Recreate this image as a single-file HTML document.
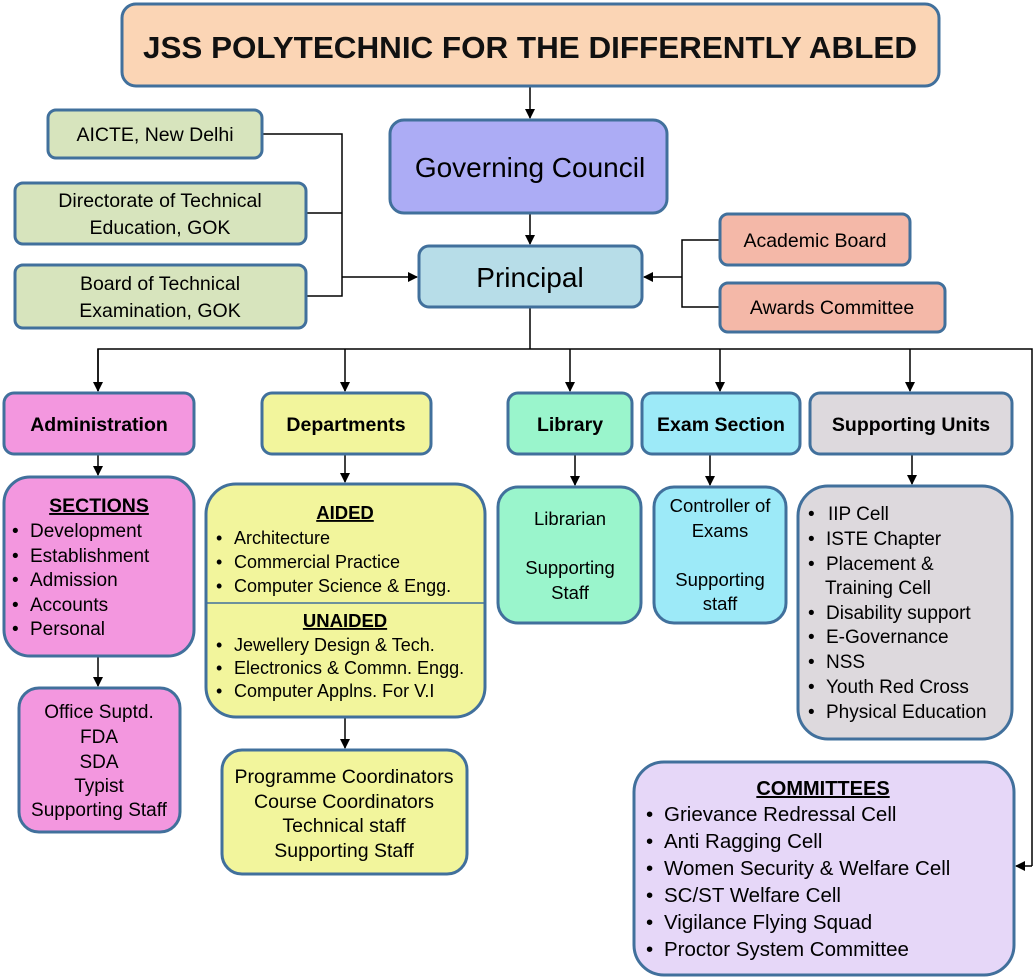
<!DOCTYPE html>
<html><head><meta charset="utf-8"><style>
html,body{margin:0;padding:0;background:#fff;}
svg{display:block;font-family:"Liberation Sans",sans-serif;}
rect{stroke:#41709c;stroke-width:3;}
line,polyline{stroke:#000;stroke-width:1.5;fill:none;}
.b{font-weight:bold;}
</style></head><body>
<svg width="1036" height="979" viewBox="0 0 1036 979">
<defs><marker id="a" markerWidth="10" markerHeight="10" refX="9" refY="5" orient="auto" markerUnits="userSpaceOnUse"><path d="M0,0 L10,5 L0,10 z" fill="#000"/></marker></defs>

<line x1="530" y1="86" x2="530" y2="118" marker-end="url(#a)"/>
<line x1="530" y1="213" x2="530" y2="244" marker-end="url(#a)"/>
<polyline points="262,134 342,134 342,296 306,296"/>
<line x1="306" y1="213" x2="342" y2="213"/>
<line x1="342" y1="277" x2="417" y2="277" marker-end="url(#a)"/>
<polyline points="720,240 682,240 682,307 720,307"/>
<line x1="682" y1="277" x2="644" y2="277" marker-end="url(#a)"/>
<line x1="530" y1="307" x2="530" y2="349"/>
<polyline points="98,391 98,349 1032,349 1032,866"/>
<line x1="1032" y1="866" x2="1016" y2="866" marker-end="url(#a)"/>
<line x1="98" y1="349" x2="98" y2="391" marker-end="url(#a)"/>
<line x1="345" y1="349" x2="345" y2="391" marker-end="url(#a)"/>
<line x1="570" y1="349" x2="570" y2="391" marker-end="url(#a)"/>
<line x1="720" y1="349" x2="720" y2="391" marker-end="url(#a)"/>
<line x1="910" y1="349" x2="910" y2="391" marker-end="url(#a)"/>
<line x1="98" y1="454" x2="98" y2="475" marker-end="url(#a)"/>
<line x1="98" y1="656" x2="98" y2="686" marker-end="url(#a)"/>
<line x1="345" y1="454" x2="345" y2="482" marker-end="url(#a)"/>
<line x1="345" y1="717" x2="345" y2="748" marker-end="url(#a)"/>
<line x1="575" y1="454" x2="575" y2="485" marker-end="url(#a)"/>
<line x1="710" y1="454" x2="710" y2="485" marker-end="url(#a)"/>
<line x1="912" y1="454" x2="912" y2="484" marker-end="url(#a)"/>

<rect x="122" y="4" width="817" height="82" rx="14" fill="#fbd5b5"/>
<text x="530" y="58" text-anchor="middle" class="b" font-size="31" fill="#111" textLength="774" lengthAdjust="spacingAndGlyphs">JSS POLYTECHNIC FOR THE DIFFERENTLY ABLED</text>

<g font-size="19.5">
<rect x="48" y="110" width="214" height="48" rx="8" fill="#d7e4bd"/>
<text x="155" y="141" text-anchor="middle">AICTE, New Delhi</text>
<rect x="15" y="183" width="291" height="61" rx="8" fill="#d7e4bd"/>
<text x="160" y="207" text-anchor="middle">Directorate of Technical</text>
<text x="160" y="234" text-anchor="middle">Education, GOK</text>
<rect x="15" y="265" width="291" height="63" rx="8" fill="#d7e4bd"/>
<text x="160" y="290" text-anchor="middle">Board of Technical</text>
<text x="160" y="317" text-anchor="middle">Examination, GOK</text>
<rect x="720" y="214" width="190" height="51" rx="8" fill="#f4b8a8"/>
<text x="815" y="247" text-anchor="middle">Academic Board</text>
<rect x="720" y="283" width="225" height="49" rx="8" fill="#f4b8a8"/>
<text x="832" y="314" text-anchor="middle">Awards Committee</text>
</g>

<rect x="390" y="120" width="277" height="93" rx="14" fill="#acacf5"/>
<text x="530" y="177" text-anchor="middle" font-size="28">Governing Council</text>
<rect x="419" y="246" width="223" height="61" rx="10" fill="#b7dde8"/>
<text x="530" y="287" text-anchor="middle" font-size="28">Principal</text>

<g class="b" font-size="19.5" text-anchor="middle">
<rect x="4" y="393" width="190" height="61" rx="10" fill="#f397df"/>
<text x="99" y="431">Administration</text>
<rect x="262" y="393" width="169" height="61" rx="10" fill="#f2f59c"/>
<text x="346" y="431">Departments</text>
<rect x="508" y="393" width="124" height="61" rx="10" fill="#9af5cc"/>
<text x="570" y="431">Library</text>
<rect x="642" y="393" width="158" height="61" rx="10" fill="#9deaf8"/>
<text x="721" y="431">Exam Section</text>
<rect x="810" y="393" width="202" height="61" rx="10" fill="#ddd9dd"/>
<text x="911" y="431">Supporting Units</text>
</g>

<rect x="4" y="477" width="190" height="179" rx="26" fill="#f397df"/>
<text x="99" y="512" text-anchor="middle" class="b" font-size="19.5" text-decoration="underline">SECTIONS</text>
<g font-size="19">
<text x="12" y="537">•</text><text x="30" y="537">Development</text>
<text x="12" y="562">•</text><text x="30" y="562">Establishment</text>
<text x="12" y="586">•</text><text x="30" y="586">Admission</text>
<text x="12" y="611">•</text><text x="30" y="611">Accounts</text>
<text x="12" y="635">•</text><text x="30" y="635">Personal</text>
</g>
<rect x="19" y="688" width="161" height="144" rx="20" fill="#f397df"/>
<g font-size="19" text-anchor="middle">
<text x="99" y="718">Office Suptd.</text>
<text x="99" y="743">FDA</text>
<text x="99" y="768">SDA</text>
<text x="99" y="792">Typist</text>
<text x="99" y="816">Supporting Staff</text>
</g>

<rect x="206" y="484" width="279" height="233" rx="30" fill="#f2f59c"/>
<line x1="207" y1="603" x2="484" y2="603" style="stroke:#41709c;stroke-width:1.5"/>
<text x="345" y="519" text-anchor="middle" class="b" font-size="18.5" text-decoration="underline">AIDED</text>
<text x="345" y="627" text-anchor="middle" class="b" font-size="18.5" text-decoration="underline">UNAIDED</text>
<g font-size="18">
<text x="216" y="544">•</text><text x="234" y="544">Architecture</text>
<text x="216" y="568">•</text><text x="234" y="568">Commercial Practice</text>
<text x="216" y="592">•</text><text x="234" y="592">Computer Science &amp; Engg.</text>
<text x="216" y="651">•</text><text x="234" y="651">Jewellery Design &amp; Tech.</text>
<text x="216" y="674">•</text><text x="234" y="674">Electronics &amp; Commn. Engg.</text>
<text x="216" y="697">•</text><text x="234" y="697">Computer Applns. For V.I</text>
</g>
<rect x="222" y="750" width="245" height="124" rx="20" fill="#f2f59c"/>
<g font-size="19.5" text-anchor="middle">
<text x="344" y="783">Programme Coordinators</text>
<text x="344" y="808">Course Coordinators</text>
<text x="344" y="832">Technical staff</text>
<text x="344" y="857">Supporting Staff</text>
</g>

<rect x="498" y="487" width="143" height="136" rx="20" fill="#9af5cc"/>
<g font-size="18.5" text-anchor="middle">
<text x="570" y="525">Librarian</text>
<text x="570" y="574">Supporting</text>
<text x="570" y="599">Staff</text>
</g>
<rect x="654" y="487" width="132" height="136" rx="20" fill="#9deaf8"/>
<g font-size="18.5" text-anchor="middle">
<text x="720" y="512">Controller of</text>
<text x="720" y="537">Exams</text>
<text x="720" y="586">Supporting</text>
<text x="720" y="610">staff</text>
</g>

<rect x="798" y="486" width="214" height="253" rx="30" fill="#ddd9dd"/>
<g font-size="19">
<text x="808" y="520">•</text><text x="828" y="520">IIP Cell</text>
<text x="808" y="545">•</text><text x="826" y="545">ISTE Chapter</text>
<text x="808" y="570">•</text><text x="826" y="570">Placement &amp;</text>
<text x="825" y="594">Training Cell</text>
<text x="808" y="619">•</text><text x="826" y="619">Disability support</text>
<text x="808" y="643">•</text><text x="826" y="643">E-Governance</text>
<text x="808" y="668">•</text><text x="826" y="668">NSS</text>
<text x="808" y="693">•</text><text x="826" y="693">Youth Red Cross</text>
<text x="808" y="718">•</text><text x="826" y="718">Physical Education</text>
</g>

<rect x="634" y="762" width="380" height="213" rx="30" fill="#e6d7f8"/>
<text x="823" y="795" text-anchor="middle" class="b" font-size="20" text-decoration="underline">COMMITTEES</text>
<g font-size="20.5">
<text x="646" y="821">•</text><text x="664" y="821">Grievance Redressal Cell</text>
<text x="646" y="848">•</text><text x="664" y="848">Anti Ragging Cell</text>
<text x="646" y="875">•</text><text x="664" y="875">Women Security &amp; Welfare Cell</text>
<text x="646" y="902">•</text><text x="664" y="902">SC/ST Welfare Cell</text>
<text x="646" y="929">•</text><text x="664" y="929">Vigilance Flying Squad</text>
<text x="646" y="956">•</text><text x="664" y="956">Proctor System Committee</text>
</g>
</svg>
</body></html>
